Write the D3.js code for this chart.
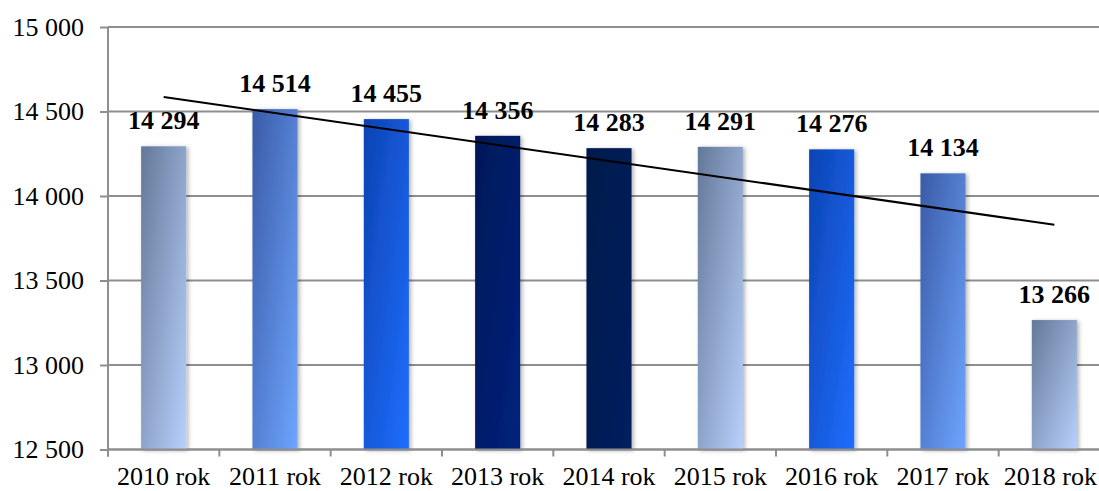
<!DOCTYPE html>
<html>
<head>
<meta charset="utf-8">
<script src="https://cdn.jsdelivr.net/npm/d3@7"></script>
<style>
  body { margin: 0; background: #fff; }
  svg { display: block; font-family: "Liberation Serif", "Times New Roman", serif; }
</style>
</head>
<body>
<div id="chart"></div>
<script>
var years = ["2010 rok", "2011 rok", "2012 rok", "2013 rok", "2014 rok", "2015 rok", "2016 rok", "2017 rok", "2018 rok"];
var values = [14294, 14514, 14455, 14356, 14283, 14291, 14276, 14134, 13266];
var yTicks = [12500, 13000, 13500, 14000, 14500, 15000];

// gradient per bar: [top-left, bottom-right]
var palette = [
  ["#637898", "#b8d0fc"],
  ["#3a5aa6", "#6ea5ff"],
  ["#0c43b2", "#1f6eff"],
  ["#001858", "#00227c"],
  ["#00194c", "#00205e"]
];
var barStyle = [0, 1, 2, 3, 4, 0, 2, 1, 0];

var width = 1099, height = 491,
    margin = {top: 27, left: 108},
    plotRight = 1110,
    plotBottom = 449.5;

var locale = d3.formatLocale({decimal: ",", thousands: " ", grouping: [3], currency: ["", ""]});
var fmt = locale.format(",d");

var x = d3.scaleBand()
    .domain(years)
    .range([margin.left, plotRight])
    .paddingInner(0.595)
    .paddingOuter(0.2975);

var y = d3.scaleLinear()
    .domain([12500, 15000])
    .range([plotBottom, margin.top]);

var svg = d3.select("#chart").append("svg")
    .attr("width", width)
    .attr("height", height);

var defs = svg.append("defs");
palette.forEach(function(p, i) {
  var g = defs.append("linearGradient")
      .attr("id", "grad" + i)
      .attr("x1", 0).attr("y1", 0).attr("x2", 1).attr("y2", 1);
  g.append("stop").attr("offset", "0%").attr("stop-color", p[0]);
  g.append("stop").attr("offset", "100%").attr("stop-color", p[1]);
});
var shadow = defs.append("filter").attr("id", "shadow")
    .attr("x", "-30%").attr("y", "-10%").attr("width", "160%").attr("height", "120%");
shadow.append("feDropShadow")
    .attr("dx", 2).attr("dy", 1).attr("stdDeviation", 2)
    .attr("flood-color", "#000").attr("flood-opacity", 0.3);

// gridlines
svg.append("g")
  .selectAll("line")
  .data(yTicks)
  .enter().append("line")
    .attr("x1", margin.left).attr("x2", plotRight)
    .attr("y1", function(d) { return y(d); })
    .attr("y2", function(d) { return y(d); })
    .attr("stroke", "#8e8e8e")
    .attr("stroke-width", 2);

// y axis
var yAxis = d3.axisLeft(y)
    .tickValues(yTicks)
    .tickSize(8)
    .tickPadding(16)
    .tickFormat(fmt);
var gY = svg.append("g")
    .attr("transform", "translate(" + margin.left + ",0)")
    .call(yAxis);
gY.select(".domain").remove();
gY.selectAll(".tick line").attr("stroke", "#8e8e8e").attr("stroke-width", 2);
gY.selectAll(".tick text")
    .attr("font-size", 26)
    .attr("font-family", "Liberation Serif")
    .attr("fill", "#000");
svg.append("line")
    .attr("x1", margin.left).attr("x2", margin.left)
    .attr("y1", margin.top).attr("y2", plotBottom + 7)
    .attr("stroke", "#8e8e8e").attr("stroke-width", 2);

// bars
svg.append("g")
  .selectAll("rect")
  .data(values)
  .enter().append("rect")
    .attr("x", function(d, i) { return x(years[i]); })
    .attr("y", function(d) { return y(d); })
    .attr("width", x.bandwidth())
    .attr("height", function(d) { return plotBottom - y(d); })
    .attr("fill", function(d, i) { return "url(#grad" + barStyle[i] + ")"; })
    .attr("filter", "url(#shadow)");

// x axis
var step = x.step();
svg.append("line")
    .attr("x1", margin.left).attr("x2", plotRight)
    .attr("y1", plotBottom).attr("y2", plotBottom)
    .attr("stroke", "#8e8e8e").attr("stroke-width", 2);
svg.append("g")
  .selectAll("line")
  .data(d3.range(years.length + 1))
  .enter().append("line")
    .attr("x1", function(i) { return margin.left + i * step; })
    .attr("x2", function(i) { return margin.left + i * step; })
    .attr("y1", plotBottom).attr("y2", plotBottom + 7)
    .attr("stroke", "#8e8e8e").attr("stroke-width", 2);
svg.append("g")
  .selectAll("text")
  .data(years)
  .enter().append("text")
    .attr("x", function(d) { return x(d) + x.bandwidth() / 2; })
    .attr("y", 485)
    .attr("text-anchor", "middle")
    .attr("font-size", 26)
    .text(function(d) { return d; })
    .each(function(d) {
      // keep the last label inside the picture
      var cx = x(d) + x.bandwidth() / 2,
          half = this.getComputedTextLength() / 2;
      if (cx + half > width - 2) d3.select(this).attr("x", width - 2 - half);
    });

// trend line (least squares)
var n = values.length,
    xm = d3.mean(d3.range(1, n + 1)),
    ym = d3.mean(values),
    slope = d3.sum(values, function(v, i) { return (i + 1 - xm) * (v - ym); }) /
            d3.sum(d3.range(1, n + 1), function(k) { return (k - xm) * (k - xm); }),
    icpt = ym - slope * xm;
svg.append("line")
    .attr("x1", x(years[0]) + x.bandwidth() / 2)
    .attr("y1", y(icpt + slope * 1))
    .attr("x2", x(years[n - 1]) + x.bandwidth() / 2)
    .attr("y2", y(icpt + slope * n))
    .attr("stroke", "#000")
    .attr("stroke-width", 2);

// value labels
svg.append("g")
  .selectAll("text")
  .data(values)
  .enter().append("text")
    .attr("x", function(d, i) { return x(years[i]) + x.bandwidth() / 2; })
    .attr("y", function(d) { return y(d) - 17; })
    .attr("text-anchor", "middle")
    .attr("font-size", 26)
    .attr("font-weight", "bold")
    .text(function(d) { return fmt(d); });
</script>
</body>
</html>
